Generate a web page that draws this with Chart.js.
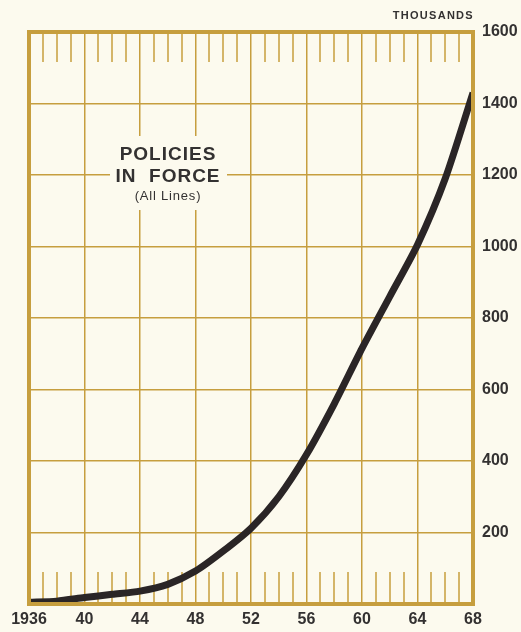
<!DOCTYPE html>
<html>
<head>
<meta charset="utf-8">
<script src="https://cdn.jsdelivr.net/npm/chart.js@4/dist/chart.umd.min.js"></script>
<style>
  html, body { margin: 0; padding: 0; background: #fcfaee; }
  #wrap { width: 521px; height: 632px; position: relative; }
</style>
</head>
<body>
<div id="wrap"><canvas id="policies_graph" width="521" height="632"></canvas></div>
<script>
// policies in force, thousands, every second year
const years = [1936, 1938, 1940, 1942, 1944, 1946, 1948, 1950, 1952, 1954, 1956, 1958, 1960, 1962, 1964, 1966, 1968]
const policies = [5, 8, 18, 27, 36, 55, 92, 148, 212, 300, 418, 560, 715, 860, 1005, 1190, 1430]
const yTicks = [0, 200, 400, 600, 800, 1000, 1200, 1400, 1600]
const xTicks = [1936, 1940, 1944, 1948, 1952, 1956, 1960, 1964, 1968]

const gold = '#c69e3e'
const ink = '#333131'
const paper = '#fcfaee'
const font = "'Liberation Sans', Arial, sans-serif"

// frame, short year ticks and the caption box
const framePlugin = {
    id: 'frame',
    beforeDatasetsDraw(chart) {
        const ctx = chart.ctx
        const a = chart.chartArea
        const x = chart.scales.x
        ctx.save()
        ctx.strokeStyle = gold
        ctx.lineWidth = 1.5
        for (let yr = xTicks[0]; yr <= xTicks[xTicks.length - 1]; yr++) {
            if ((yr - 1936) % 4 === 0) continue
            const px = Math.round(x.getPixelForValue(yr))
            ctx.beginPath()
            ctx.moveTo(px, a.top)
            ctx.lineTo(px, a.top + 30)
            ctx.moveTo(px, a.bottom)
            ctx.lineTo(px, a.bottom - 32)
            ctx.stroke()
        }
        // caption
        ctx.fillStyle = paper
        ctx.fillRect(110, 136, 117, 74)
        ctx.fillStyle = ink
        ctx.textAlign = 'center'
        ctx.textBaseline = 'middle'
        ctx.font = 'bold 19px ' + font
        ctx.letterSpacing = '1px'
        ctx.fillText('POLICIES', 168, 155)
        ctx.fillText('IN  FORCE', 168, 177)
        ctx.font = '13px ' + font
        ctx.letterSpacing = '0.8px'
        ctx.fillText('(All Lines)', 168, 196)
        // units
        ctx.font = 'bold 11px ' + font
        ctx.letterSpacing = '1.3px'
        ctx.textAlign = 'right'
        ctx.fillText('THOUSANDS', a.right + 1, 16)
        ctx.restore()
    },
    afterDraw(chart) {
        const ctx = chart.ctx
        const a = chart.chartArea
        ctx.save()
        ctx.strokeStyle = gold
        ctx.lineWidth = 4
        ctx.strokeRect(a.left, a.top, a.right - a.left, a.bottom - a.top)
        ctx.restore()
    }
}

const data = {
    datasets: [{
        label: 'Policies in force',
        data: years.map((yr, i) => ({ x: yr, y: policies[i] })),
        borderColor: '#2a2526',
        borderWidth: 7,
        pointRadius: 0,
        tension: 0.25,
        fill: false,
    }]
}

const config = {
    type: 'line',
    data: data,
    options: {
        responsive: false,
        animation: false,
        layout: {
            padding: { left: 29, top: 32, right: 0, bottom: 0 }
        },
        plugins: {
            legend: { display: false },
            tooltip: { enabled: false }
        },
        scales: {
            x: {
                type: 'linear',
                min: xTicks[0],
                max: xTicks[xTicks.length - 1],
                afterFit: (scale) => { scale.height = 28 },
                afterBuildTicks: (scale) => { scale.ticks = xTicks.map(v => ({ value: v })) },
                border: { display: false },
                grid: {
                    color: gold,
                    lineWidth: 1.5,
                    drawTicks: false,
                },
                ticks: {
                    padding: 6,
                    color: ink,
                    maxRotation: 0,
                    font: { family: font, size: 16, weight: 'bold' },
                    callback: (v) => v === 1936 ? '1936' : String(v).slice(2),
                }
            },
            y: {
                position: 'right',
                min: yTicks[0],
                max: yTicks[yTicks.length - 1],
                afterFit: (scale) => { scale.width = 48 },
                afterBuildTicks: (scale) => { scale.ticks = yTicks.map(v => ({ value: v })) },
                border: { display: false },
                grid: {
                    color: gold,
                    lineWidth: 1.5,
                    drawTicks: false,
                },
                ticks: {
                    padding: 9,
                    color: ink,
                    font: { family: font, size: 16, weight: 'bold' },
                    callback: (v) => v === 0 ? '' : v,
                }
            },
        }
    },
    plugins: [framePlugin],
};

const policies_graph = new Chart(
    document.getElementById('policies_graph'),
    config
);
</script>
</body>
</html>
